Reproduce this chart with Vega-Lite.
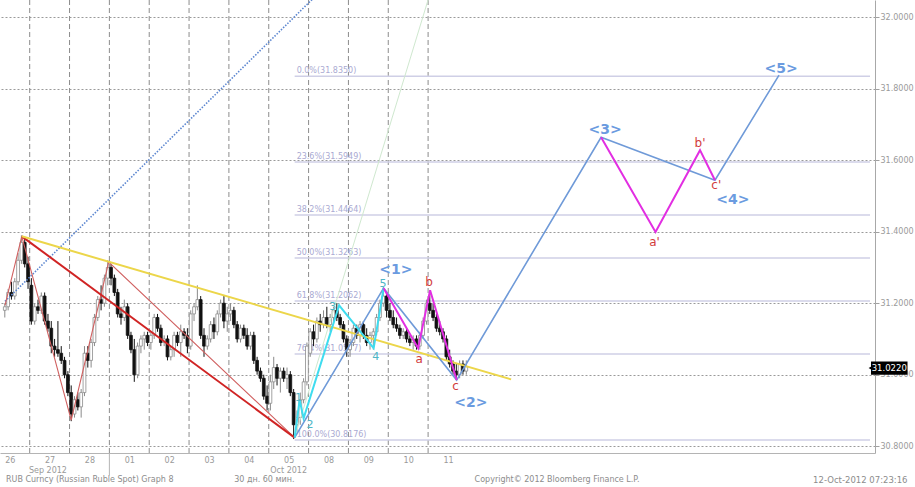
{
 "$schema": "https://vega.github.io/schema/vega-lite/v6.json",
 "width": 875, "height": 453,
 "autosize": {"type": "none"},
 "padding": {"left": 0, "top": 0, "right": 40, "bottom": 34},
 "background": "white",
 "config": {"view": {"stroke": null}, "font": "DejaVu Sans"},
 "datasets": {
  "grid": [{"i":11.5},{"i":23.5},{"i":35.5},{"i":47.5},{"i":59.5},{"i":71.5},{"i":83.5},{"i":95.5},{"i":107.5},{"i":119.5},{"i":131.5}],
  "fib": [
   {"i":91.3,"i2":264.6,"p":31.835,"t":"0.0%(31.8350)"},
   {"i":91.3,"i2":264.6,"p":31.5949,"t":"23.6%(31.5949)"},
   {"i":91.3,"i2":264.6,"p":31.4464,"t":"38.2%(31.4464)"},
   {"i":91.3,"i2":264.6,"p":31.3263,"t":"50.0%(31.3263)"},
   {"i":91.3,"i2":264.6,"p":31.2062,"t":"61.8%(31.2062)"},
   {"i":91.3,"i2":264.6,"p":31.0577,"t":"76.4%(31.0577)"},
   {"i":91.3,"i2":264.6,"p":30.8176,"t":"100.0%(30.8176)"}
  ],
  "candles": [
   {"i":4,"o":31.18,"h":31.20,"l":31.16,"c":31.19},
   {"i":5,"o":31.19,"h":31.24,"l":31.18,"c":31.23},
   {"i":6,"o":31.23,"h":31.26,"l":31.21,"c":31.22},
   {"i":7,"o":31.22,"h":31.27,"l":31.21,"c":31.26},
   {"i":8,"o":31.26,"h":31.34,"l":31.25,"c":31.32},
   {"i":9,"o":31.32,"h":31.39,"l":31.31,"c":31.37},
   {"i":10,"o":31.37,"h":31.38,"l":31.30,"c":31.31},
   {"i":11,"o":31.31,"h":31.33,"l":31.24,"c":31.26},
   {"i":12,"o":31.25,"h":31.27,"l":31.14,"c":31.15},
   {"i":13,"o":31.15,"h":31.20,"l":31.14,"c":31.19},
   {"i":14,"o":31.19,"h":31.21,"l":31.17,"c":31.18},
   {"i":15,"o":31.18,"h":31.23,"l":31.17,"c":31.22},
   {"i":16,"o":31.22,"h":31.23,"l":31.14,"c":31.15},
   {"i":17,"o":31.15,"h":31.17,"l":31.12,"c":31.13},
   {"i":18,"o":31.13,"h":31.15,"l":31.06,"c":31.08},
   {"i":19,"o":31.08,"h":31.10,"l":31.05,"c":31.07},
   {"i":20,"o":31.07,"h":31.15,"l":31.05,"c":31.06},
   {"i":21,"o":31.06,"h":31.08,"l":31.03,"c":31.04},
   {"i":22,"o":31.04,"h":31.05,"l":30.99,"c":31.00},
   {"i":23,"o":31.00,"h":31.01,"l":30.94,"c":30.95},
   {"i":24,"o":30.95,"h":30.97,"l":30.87,"c":30.89},
   {"i":25,"o":30.89,"h":30.94,"l":30.88,"c":30.93},
   {"i":26,"o":30.93,"h":30.95,"l":30.90,"c":30.91},
   {"i":27,"o":30.91,"h":30.96,"l":30.88,"c":30.95},
   {"i":28,"o":30.95,"h":31.08,"l":30.94,"c":31.06},
   {"i":29,"o":31.06,"h":31.08,"l":31.02,"c":31.04},
   {"i":30,"o":31.04,"h":31.10,"l":31.02,"c":31.09},
   {"i":31,"o":31.09,"h":31.17,"l":31.08,"c":31.16},
   {"i":32,"o":31.16,"h":31.22,"l":31.15,"c":31.21},
   {"i":33,"o":31.21,"h":31.25,"l":31.18,"c":31.20},
   {"i":34,"o":31.20,"h":31.28,"l":31.19,"c":31.27},
   {"i":35,"o":31.27,"h":31.32,"l":31.25,"c":31.30},
   {"i":36,"o":31.30,"h":31.31,"l":31.25,"c":31.27},
   {"i":37,"o":31.27,"h":31.28,"l":31.22,"c":31.23},
   {"i":38,"o":31.23,"h":31.24,"l":31.16,"c":31.17},
   {"i":39,"o":31.17,"h":31.19,"l":31.14,"c":31.16},
   {"i":40,"o":31.16,"h":31.21,"l":31.15,"c":31.19},
   {"i":41,"o":31.19,"h":31.20,"l":31.10,"c":31.11},
   {"i":42,"o":31.11,"h":31.12,"l":31.06,"c":31.07},
   {"i":43,"o":31.07,"h":31.10,"l":30.98,"c":31.00},
   {"i":44,"o":31.00,"h":31.09,"l":30.99,"c":31.08},
   {"i":45,"o":31.08,"h":31.11,"l":31.06,"c":31.10},
   {"i":46,"o":31.10,"h":31.12,"l":31.07,"c":31.11},
   {"i":47,"o":31.11,"h":31.12,"l":31.08,"c":31.09},
   {"i":48,"o":31.09,"h":31.12,"l":31.07,"c":31.11},
   {"i":49,"o":31.11,"h":31.17,"l":31.10,"c":31.16},
   {"i":50,"o":31.16,"h":31.17,"l":31.12,"c":31.13},
   {"i":51,"o":31.13,"h":31.14,"l":31.08,"c":31.09},
   {"i":52,"o":31.09,"h":31.11,"l":31.08,"c":31.10},
   {"i":53,"o":31.10,"h":31.11,"l":31.04,"c":31.05},
   {"i":54,"o":31.05,"h":31.08,"l":31.04,"c":31.07},
   {"i":55,"o":31.07,"h":31.12,"l":31.05,"c":31.11},
   {"i":56,"o":31.11,"h":31.12,"l":31.08,"c":31.09},
   {"i":57,"o":31.09,"h":31.14,"l":31.05,"c":31.12},
   {"i":58,"o":31.12,"h":31.13,"l":31.10,"c":31.11},
   {"i":59,"o":31.11,"h":31.13,"l":31.06,"c":31.08},
   {"i":60,"o":31.08,"h":31.18,"l":31.07,"c":31.17},
   {"i":61,"o":31.17,"h":31.20,"l":31.15,"c":31.19},
   {"i":62,"o":31.19,"h":31.25,"l":31.18,"c":31.21},
   {"i":63,"o":31.21,"h":31.22,"l":31.10,"c":31.11},
   {"i":64,"o":31.11,"h":31.13,"l":31.05,"c":31.08},
   {"i":65,"o":31.08,"h":31.11,"l":31.07,"c":31.10},
   {"i":66,"o":31.10,"h":31.15,"l":31.09,"c":31.14},
   {"i":67,"o":31.14,"h":31.16,"l":31.10,"c":31.12},
   {"i":68,"o":31.12,"h":31.18,"l":31.11,"c":31.17},
   {"i":69,"o":31.17,"h":31.21,"l":31.16,"c":31.20},
   {"i":70,"o":31.20,"h":31.22,"l":31.13,"c":31.15},
   {"i":71,"o":31.15,"h":31.19,"l":31.12,"c":31.17},
   {"i":72,"o":31.17,"h":31.20,"l":31.15,"c":31.18},
   {"i":73,"o":31.18,"h":31.19,"l":31.13,"c":31.14},
   {"i":74,"o":31.14,"h":31.15,"l":31.09,"c":31.10},
   {"i":75,"o":31.10,"h":31.14,"l":31.09,"c":31.13},
   {"i":76,"o":31.13,"h":31.14,"l":31.10,"c":31.11},
   {"i":77,"o":31.11,"h":31.13,"l":31.07,"c":31.08},
   {"i":78,"o":31.08,"h":31.12,"l":31.07,"c":31.11},
   {"i":79,"o":31.11,"h":31.12,"l":31.03,"c":31.04},
   {"i":80,"o":31.04,"h":31.05,"l":31.00,"c":31.01},
   {"i":81,"o":31.01,"h":31.02,"l":30.98,"c":30.99},
   {"i":82,"o":30.99,"h":31.00,"l":30.93,"c":30.94},
   {"i":83,"o":30.94,"h":30.97,"l":30.90,"c":30.92},
   {"i":84,"o":30.92,"h":31.00,"l":30.90,"c":30.98},
   {"i":85,"o":30.98,"h":31.05,"l":30.96,"c":31.02},
   {"i":86,"o":31.02,"h":31.03,"l":30.97,"c":30.99},
   {"i":87,"o":30.99,"h":31.02,"l":30.95,"c":31.01},
   {"i":88,"o":31.01,"h":31.02,"l":30.98,"c":30.99},
   {"i":89,"o":30.99,"h":31.02,"l":30.96,"c":31.00},
   {"i":90,"o":31.00,"h":31.01,"l":30.94,"c":30.95},
   {"i":91,"o":30.95,"h":30.96,"l":30.82,"c":30.86},
   {"i":92,"o":30.86,"h":30.90,"l":30.84,"c":30.88},
   {"i":93,"o":30.88,"h":30.95,"l":30.86,"c":30.93},
   {"i":94,"o":30.93,"h":30.99,"l":30.92,"c":30.98},
   {"i":95,"o":30.98,"h":31.09,"l":30.97,"c":31.08},
   {"i":96,"o":31.06,"h":31.13,"l":31.05,"c":31.12},
   {"i":97,"o":31.12,"h":31.14,"l":31.08,"c":31.10},
   {"i":98,"o":31.10,"h":31.16,"l":31.09,"c":31.15},
   {"i":99,"o":31.15,"h":31.17,"l":31.12,"c":31.14},
   {"i":100,"o":31.14,"h":31.18,"l":31.13,"c":31.16},
   {"i":101,"o":31.16,"h":31.19,"l":31.13,"c":31.14},
   {"i":102,"o":31.14,"h":31.17,"l":31.12,"c":31.16},
   {"i":103,"o":31.16,"h":31.19,"l":31.14,"c":31.18},
   {"i":104,"o":31.18,"h":31.20,"l":31.15,"c":31.16},
   {"i":105,"o":31.16,"h":31.17,"l":31.13,"c":31.14},
   {"i":106,"o":31.14,"h":31.15,"l":31.09,"c":31.10},
   {"i":107,"o":31.10,"h":31.11,"l":31.05,"c":31.07},
   {"i":108,"o":31.07,"h":31.10,"l":31.05,"c":31.09},
   {"i":109,"o":31.09,"h":31.14,"l":31.08,"c":31.13},
   {"i":110,"o":31.13,"h":31.14,"l":31.10,"c":31.11},
   {"i":111,"o":31.11,"h":31.15,"l":31.09,"c":31.14},
   {"i":112,"o":31.14,"h":31.15,"l":31.10,"c":31.11},
   {"i":113,"o":31.11,"h":31.13,"l":31.08,"c":31.09},
   {"i":114,"o":31.09,"h":31.12,"l":31.07,"c":31.11},
   {"i":115,"o":31.11,"h":31.13,"l":31.07,"c":31.12},
   {"i":116,"o":31.12,"h":31.17,"l":31.11,"c":31.16},
   {"i":117,"o":31.16,"h":31.21,"l":31.15,"c":31.20},
   {"i":118,"o":31.20,"h":31.245,"l":31.19,"c":31.22},
   {"i":119,"o":31.22,"h":31.23,"l":31.16,"c":31.18},
   {"i":120,"o":31.18,"h":31.20,"l":31.15,"c":31.16},
   {"i":121,"o":31.16,"h":31.18,"l":31.13,"c":31.14},
   {"i":122,"o":31.14,"h":31.16,"l":31.12,"c":31.13},
   {"i":123,"o":31.13,"h":31.14,"l":31.10,"c":31.11},
   {"i":124,"o":31.11,"h":31.13,"l":31.10,"c":31.12},
   {"i":125,"o":31.12,"h":31.13,"l":31.09,"c":31.10},
   {"i":126,"o":31.10,"h":31.11,"l":31.08,"c":31.09},
   {"i":127,"o":31.09,"h":31.11,"l":31.07,"c":31.10},
   {"i":128,"o":31.10,"h":31.11,"l":31.07,"c":31.08},
   {"i":129,"o":31.08,"h":31.12,"l":31.07,"c":31.11},
   {"i":130,"o":31.11,"h":31.16,"l":31.10,"c":31.15},
   {"i":131,"o":31.15,"h":31.21,"l":31.14,"c":31.20},
   {"i":132,"o":31.20,"h":31.235,"l":31.17,"c":31.18},
   {"i":133,"o":31.18,"h":31.20,"l":31.15,"c":31.16},
   {"i":134,"o":31.16,"h":31.17,"l":31.12,"c":31.13},
   {"i":135,"o":31.13,"h":31.15,"l":31.11,"c":31.12},
   {"i":136,"o":31.12,"h":31.13,"l":31.09,"c":31.10},
   {"i":137,"o":31.10,"h":31.11,"l":31.04,"c":31.05},
   {"i":138,"o":31.05,"h":31.07,"l":31.02,"c":31.03},
   {"i":139,"o":31.03,"h":31.04,"l":31.00,"c":31.01},
   {"i":140,"o":31.01,"h":31.03,"l":30.985,"c":31.00},
   {"i":141,"o":31.00,"h":31.04,"l":30.99,"c":31.03},
   {"i":142,"o":31.03,"h":31.04,"l":31.00,"c":31.01},
   {"i":143,"o":31.01,"h":31.04,"l":31.00,"c":31.022}
  ],
  "lines": [
   {"s":"redthin","i":4.06,"p":31.194},{"s":"redthin","i":9.12,"p":31.387},{"s":"redthin","i":24.0,"p":30.873},{"s":"redthin","i":35.3,"p":31.315},{"s":"redthin","i":91.3,"p":30.824},
   {"s":"redthick","i":9.12,"p":31.387},{"s":"redthick","i":91.3,"p":30.824},
   {"s":"yellow","i":9.12,"p":31.387},{"s":"yellow","i":156.5,"p":30.987},
   {"s":"dotted","i":4.06,"p":31.205},{"s":"dotted","i":99.35,"p":32.075},
   {"s":"green","i":91.3,"p":30.824},{"s":"green","i":132.4,"p":32.076},
   {"s":"cyan","i":91.3,"p":30.824},{"s":"cyan","i":92.8,"p":30.929},{"s":"cyan","i":94.0,"p":30.878},{"s":"cyan","i":104.7,"p":31.194},{"s":"cyan","i":115.1,"p":31.074},{"s":"cyan","i":118.1,"p":31.242},
   {"s":"blue","i":91.3,"p":30.824},{"s":"blue","i":118.1,"p":31.242},{"s":"blue","i":140.1,"p":30.985},{"s":"blue","i":183.6,"p":31.664},{"s":"blue","i":217.9,"p":31.544},{"s":"blue","i":237.2,"p":31.838},
   {"s":"mag1","i":118.1,"p":31.242},{"s":"mag1","i":128.5,"p":31.074},{"s":"mag1","i":132.1,"p":31.236},{"s":"mag1","i":140.1,"p":30.985},
   {"s":"mag2","i":183.6,"p":31.664},{"s":"mag2","i":200.0,"p":31.399},{"s":"mag2","i":213.4,"p":31.628},{"s":"mag2","i":217.9,"p":31.544}
  ],
  "labels": [
   {"g":"blue","i":121.8,"p":31.292,"t":"<1>"},
   {"g":"blue","i":144.4,"p":30.92,"t":"<2>"},
   {"g":"blue","i":184.8,"p":31.684,"t":"<3>"},
   {"g":"blue","i":223.3,"p":31.489,"t":"<4>"},
   {"g":"blue","i":237.8,"p":31.854,"t":"<5>"},
   {"g":"red","i":128.8,"p":31.045,"t":"a"},
   {"g":"red","i":131.8,"p":31.258,"t":"b"},
   {"g":"red","i":139.8,"p":30.967,"t":"c"},
   {"g":"red","i":199.7,"p":31.370,"t":"a'"},
   {"g":"red","i":213.4,"p":31.647,"t":"b'"},
   {"g":"red","i":218.3,"p":31.530,"t":"c'"},
   {"g":"cyan","i":92.5,"p":30.936,"t":"1"},
   {"g":"cyan","i":95.9,"p":30.858,"t":"2"},
   {"g":"cyan","i":102.8,"p":31.189,"t":"3"},
   {"g":"cyan","i":115.7,"p":31.049,"t":"4"},
   {"g":"cyan","i":117.9,"p":31.254,"t":"5"}
  ],
  "footer": [
   {"i":4.35,"p":30.705,"t":"RUB Curncy (Russian Ruble Spot) Graph 8"},
   {"i":73.1,"p":30.705,"t":"30 дн. 60 мин."},
   {"i":145.5,"p":30.705,"t":"Copyright© 2012 Bloomberg Finance L.P."}
  ],
  "footerRight": [
   {"i":275.9,"p":30.705,"t":"12-Oct-2012 07:23:16"}
  ],
  "months": [
   {"i":17.0,"p":30.731,"t":"Sep 2012"},
   {"i":89.5,"p":30.731,"t":"Oct 2012"}
  ],
  "monthSep": [{"i":35.5,"p":30.781,"p2":30.718}],
  "tag": [{"i":264.9,"i2":275.9,"p":31.0,"p2":31.037,"pc":31.0185,"ic":270.4,"t":"31.0220"}]
 },
 "layer": [
  {
   "data": {"name": "grid"},
   "mark": {"type": "rule", "color": "#8c8c8c", "strokeDash": [5, 3], "strokeWidth": 1},
   "encoding": {
    "x": {"field": "i", "type": "quantitative",
     "scale": {"domain": [4.06, 264.6], "nice": false, "zero": false},
     "axis": {"values": [5.5,17.5,29.5,41.5,53.5,65.5,77.5,89.5,101.5,113.5,125.5,137.5],
      "labelExpr": "['26','27','28','01','02','03','04','05','08','09','10','11'][floor(datum.value/12)]",
      "title": null, "grid": false, "ticks": false, "labelColor": "#9a9a9a", "labelFontSize": 8,
      "labelPadding": 3, "domainColor": "#b4b4b4", "labelFlush": false, "labelOverlap": false}}
   }
  },
  {
   "data": {"name": "fib"},
   "mark": {"type": "rule", "color": "#cfcfe6", "strokeWidth": 1.5},
   "encoding": {
    "x": {"field": "i", "type": "quantitative"},
    "x2": {"field": "i2"},
    "y": {"field": "p", "type": "quantitative",
     "scale": {"domain": [30.781, 32.048], "nice": false, "zero": false},
     "axis": {"orient": "right", "values": [30.8, 31.0, 31.2, 31.4, 31.6, 31.8, 32.0], "format": ".4f",
      "title": null, "grid": true, "gridColor": "#9a9a9a", "gridDash": [2, 2], "gridWidth": 1,
      "tickColor": "#a0a0a0", "tickSize": 4, "labelColor": "#9a9a9a", "labelFontSize": 8,
      "labelPadding": 1, "domainColor": "#a8a8a8", "labelFlush": false}}
   }
  },
  {
   "data": {"name": "fib"},
   "mark": {"type": "text", "color": "#aaaad2", "fontSize": 8, "align": "left", "baseline": "bottom", "dx": 2, "dy": -1},
   "encoding": {
    "x": {"field": "i", "type": "quantitative"},
    "y": {"field": "p", "type": "quantitative"},
    "text": {"field": "t"}
   }
  },
  {
   "data": {"name": "candles"},
   "mark": {"type": "rule", "strokeWidth": 1},
   "encoding": {
    "x": {"field": "i", "type": "quantitative"},
    "y": {"field": "l", "type": "quantitative"},
    "y2": {"field": "h"},
    "color": {"condition": {"test": "datum.c >= datum.o", "value": "#8a8a8a"}, "value": "#111111"}
   }
  },
  {
   "data": {"name": "candles"},
   "mark": {"type": "bar", "size": 2.8, "strokeWidth": 0.8},
   "encoding": {
    "x": {"field": "i", "type": "quantitative"},
    "y": {"field": "o", "type": "quantitative"},
    "y2": {"field": "c"},
    "fill": {"condition": {"test": "datum.c >= datum.o", "value": "#ffffff"}, "value": "#111111"},
    "stroke": {"condition": {"test": "datum.c >= datum.o", "value": "#8a8a8a"}, "value": "#111111"}
   }
  },
  {
   "data": {"name": "lines"},
   "transform": [{"filter": "datum.s == 'green'"}],
   "mark": {"type": "line", "color": "#cfe8cf", "strokeWidth": 1, "clip": true},
   "encoding": {"x": {"field": "i", "type": "quantitative"}, "y": {"field": "p", "type": "quantitative"}}
  },
  {
   "data": {"name": "lines"},
   "transform": [{"filter": "datum.s == 'dotted'"}],
   "mark": {"type": "line", "color": "#5c86d0", "strokeWidth": 1.6, "strokeDash": [1.5, 1.5], "clip": true},
   "encoding": {"x": {"field": "i", "type": "quantitative"}, "y": {"field": "p", "type": "quantitative"}}
  },
  {
   "data": {"name": "lines"},
   "transform": [{"filter": "datum.s == 'redthin'"}],
   "mark": {"type": "line", "color": "#d06060", "strokeWidth": 1.1},
   "encoding": {"x": {"field": "i", "type": "quantitative"}, "y": {"field": "p", "type": "quantitative"}}
  },
  {
   "data": {"name": "lines"},
   "transform": [{"filter": "datum.s == 'redthick'"}],
   "mark": {"type": "line", "color": "#d02424", "strokeWidth": 2},
   "encoding": {"x": {"field": "i", "type": "quantitative"}, "y": {"field": "p", "type": "quantitative"}}
  },
  {
   "data": {"name": "lines"},
   "transform": [{"filter": "datum.s == 'yellow'"}],
   "mark": {"type": "line", "color": "#ecd64a", "strokeWidth": 2},
   "encoding": {"x": {"field": "i", "type": "quantitative"}, "y": {"field": "p", "type": "quantitative"}}
  },
  {
   "data": {"name": "lines"},
   "transform": [{"filter": "datum.s == 'blue'"}],
   "mark": {"type": "line", "color": "#6f9ad8", "strokeWidth": 1.6},
   "encoding": {"x": {"field": "i", "type": "quantitative"}, "y": {"field": "p", "type": "quantitative"}}
  },
  {
   "data": {"name": "lines"},
   "transform": [{"filter": "datum.s == 'cyan'"}],
   "mark": {"type": "line", "color": "#3fdcef", "strokeWidth": 2},
   "encoding": {"x": {"field": "i", "type": "quantitative"}, "y": {"field": "p", "type": "quantitative"}}
  },
  {
   "data": {"name": "lines"},
   "transform": [{"filter": "datum.s == 'mag1'"}],
   "mark": {"type": "line", "color": "#e22ee2", "strokeWidth": 2},
   "encoding": {"x": {"field": "i", "type": "quantitative"}, "y": {"field": "p", "type": "quantitative"}}
  },
  {
   "data": {"name": "lines"},
   "transform": [{"filter": "datum.s == 'mag2'"}],
   "mark": {"type": "line", "color": "#e22ee2", "strokeWidth": 2},
   "encoding": {"x": {"field": "i", "type": "quantitative"}, "y": {"field": "p", "type": "quantitative"}}
  },
  {
   "data": {"name": "labels"},
   "transform": [{"filter": "datum.g == 'blue'"}],
   "mark": {"type": "text", "color": "#6b9be0", "fontSize": 14, "fontWeight": "bold", "align": "center", "baseline": "middle"},
   "encoding": {"x": {"field": "i", "type": "quantitative"}, "y": {"field": "p", "type": "quantitative"}, "text": {"field": "t"}}
  },
  {
   "data": {"name": "labels"},
   "transform": [{"filter": "datum.g == 'red'"}],
   "mark": {"type": "text", "color": "#d23c3c", "fontSize": 12, "align": "center", "baseline": "middle"},
   "encoding": {"x": {"field": "i", "type": "quantitative"}, "y": {"field": "p", "type": "quantitative"}, "text": {"field": "t"}}
  },
  {
   "data": {"name": "labels"},
   "transform": [{"filter": "datum.g == 'cyan'"}],
   "mark": {"type": "text", "color": "#4fb6c6", "fontSize": 11, "align": "center", "baseline": "middle"},
   "encoding": {"x": {"field": "i", "type": "quantitative"}, "y": {"field": "p", "type": "quantitative"}, "text": {"field": "t"}}
  },
  {
   "data": {"name": "tag"},
   "mark": {"type": "rect", "color": "#000000"},
   "encoding": {"x": {"field": "i", "type": "quantitative"}, "x2": {"field": "i2"}, "y": {"field": "p", "type": "quantitative"}, "y2": {"field": "p2"}}
  },
  {
   "data": {"name": "tag"},
   "mark": {"type": "point", "shape": "triangle-left", "filled": true, "color": "#000000", "size": 30, "opacity": 1},
   "encoding": {"x": {"field": "i", "type": "quantitative"}, "y": {"field": "pc", "type": "quantitative"}}
  },
  {
   "data": {"name": "tag"},
   "mark": {"type": "text", "color": "#ffffff", "fontSize": 8.5, "align": "center", "baseline": "middle"},
   "encoding": {"x": {"field": "ic", "type": "quantitative"}, "y": {"field": "pc", "type": "quantitative"}, "text": {"field": "t"}}
  },
  {
   "data": {"name": "monthSep"},
   "mark": {"type": "rule", "color": "#b4b4b4", "strokeWidth": 1},
   "encoding": {"x": {"field": "i", "type": "quantitative"}, "y": {"field": "p", "type": "quantitative"}, "y2": {"field": "p2"}}
  },
  {
   "data": {"name": "months"},
   "mark": {"type": "text", "color": "#9a9a9a", "fontSize": 8, "align": "center", "baseline": "middle"},
   "encoding": {"x": {"field": "i", "type": "quantitative"}, "y": {"field": "p", "type": "quantitative"}, "text": {"field": "t"}}
  },
  {
   "data": {"name": "footer"},
   "mark": {"type": "text", "color": "#8c8c8c", "fontSize": 8, "align": "left", "baseline": "middle"},
   "encoding": {"x": {"field": "i", "type": "quantitative"}, "y": {"field": "p", "type": "quantitative"}, "text": {"field": "t"}}
  },
  {
   "data": {"name": "footerRight"},
   "mark": {"type": "text", "color": "#8c8c8c", "fontSize": 8.5, "align": "right", "baseline": "middle"},
   "encoding": {"x": {"field": "i", "type": "quantitative"}, "y": {"field": "p", "type": "quantitative"}, "text": {"field": "t"}}
  }
 ]
}
